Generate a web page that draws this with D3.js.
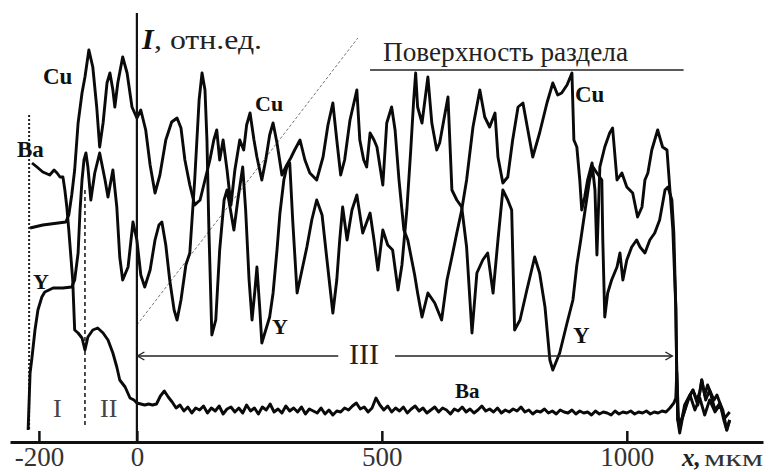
<!DOCTYPE html>
<html>
<head>
<meta charset="utf-8">
<script src="https://cdn.jsdelivr.net/npm/d3@7"></script>
<style>
  body { margin: 0; background: #fff; }
  svg { display: block; }
</style>
</head>
<body>
<script>
// Concentration profiles across the interface, x in mkm, I in rel. units

var cuX = [-218, -192, -145, -139, -133, -127, -120, -112, -106, -98,
  -90, -82, -76, -69, -61, -55, -49, -45, -39, -29,
  -20, -10, 0, 8, 18, 27, 37, 47, 59, 71,
  82, 90, 98, 108, 118, 129, 139, 149, 157, 163,
  169, 176, 184, 192, 200, 210, 218, 224, 231, 239,
  245, 255, 263, 271, 278, 286, 296, 306, 314, 322,
  333, 343, 353, 367, 380, 390, 400, 408, 416, 424,
  435, 449, 455, 463, 469, 476, 484, 490, 502, 510,
  520, 527, 535, 545, 553, 561, 567, 573, 582, 594,
  608, 622, 633, 643, 653, 663, 673, 686, 700, 710,
  720, 731, 737, 747, 757, 767, 778, 788, 798, 808,
  822, 837, 849, 859, 867, 878, 888, 892, 898, 904,
  908, 914, 920, 929, 935, 939, 945, 955, 965, 971,
  980, 990, 1000, 1012, 1022, 1031, 1037, 1043, 1051, 1063,
  1073, 1082, 1088, 1094, 1100, 1102, 1104, 1110, 1118, 1129,
  1139, 1149, 1159, 1169, 1180, 1190, 1200, 1210];
var cuI = [21.4, 21.7, 22.0, 22.7, 24.7, 27.2, 31.9, 34.9, 36.5, 39.2,
  37.5, 33.5, 29.5, 31.9, 35.9, 36.9, 35.2, 33.5, 35.9, 38.5,
  36.9, 33.5, 32.4, 33.2, 31.2, 27.7, 24.9, 26.7, 30.2, 32.0,
  32.4, 31.4, 28.2, 25.7, 23.7, 24.2, 26.2, 28.2, 30.2, 31.2,
  28.2, 30.2, 27.2, 23.7, 27.2, 30.2, 29.2, 31.7, 32.9, 30.2,
  28.5, 26.2, 28.2, 30.7, 31.9, 29.9, 26.7, 27.7, 28.4, 29.2,
  30.2, 28.2, 26.9, 26.2, 28.5, 31.7, 33.9, 30.2, 26.7, 28.2,
  32.2, 35.2, 30.2, 28.2, 27.5, 30.9, 30.2, 29.5, 25.7, 31.9,
  33.5, 31.2, 26.2, 21.2, 20.2, 18.2, 16.7, 14.9, 12.5, 14.9,
  13.9, 12.2, 16.2, 18.5, 20.9, 23.2, 26.2, 31.5, 35.2, 32.5,
  31.5, 32.9, 28.5, 25.9, 26.5, 30.2, 33.5, 33.9, 31.2, 28.5,
  30.9, 33.9, 35.9, 34.7, 34.9, 35.7, 36.9, 30.2, 29.5, 26.2,
  23.2, 24.5, 26.2, 27.9, 25.2, 18.7, 27.5, 29.5, 30.9, 31.4,
  26.2, 26.9, 25.5, 24.9, 22.5, 23.5, 26.2, 26.9, 29.2, 31.2,
  29.5, 29.2, 25.2, 21.2, 13.5, 6.7, 2.2, 1.7, 3.7, 4.7,
  3.2, 4.4, 2.7, 4.2, 3.0, 3.7, 2.4, 3.0];

var yX = [-222, -218, -214, -208, -202, -194, -188, -171, -151, -133,
  -127, -120, -116, -112, -108, -104, -100, -94, -86, -76,
  -65, -59, -49, -41, -35, -29, -18, -8, 0, 8,
  16, 27, 37, 45, 51, 59, 67, 76, 82, 90,
  100, 108, 118, 127, 133, 139, 143, 147, 153, 161,
  169, 178, 184, 190, 198, 206, 216, 222, 229, 235,
  241, 245, 251, 255, 263, 271, 278, 286, 292, 300,
  306, 312, 318, 327, 337, 347, 357, 367, 378, 388,
  400, 408, 414, 420, 429, 439, 449, 461, 476, 484,
  492, 502, 512, 522, 533, 541, 551, 559, 565, 569,
  573, 582, 594, 602, 612, 618, 635, 643, 653, 663,
  673, 684, 694, 706, 716, 727, 737, 747, 757, 765,
  771, 782, 796, 812, 822, 833, 843, 849, 863, 878,
  890, 898, 906, 914, 924, 931, 939, 949, 951, 955,
  961, 969, 980, 986, 992, 1000, 1010, 1020, 1027, 1037,
  1047, 1057, 1067, 1078, 1084, 1092, 1096, 1100, 1102, 1106,
  1114, 1124, 1135, 1145, 1153, 1161, 1169, 1180, 1190, 1198,
  1204, 1210];
var yI = [1.2, 6.9, 8.5, 11.2, 13.2, 14.5, 15.0, 15.4, 15.4, 15.5,
  16.2, 18.9, 23.2, 26.2, 28.2, 28.9, 27.5, 24.2, 26.9, 28.9,
  26.2, 24.5, 27.2, 23.5, 18.5, 16.2, 17.5, 22.0, 20.2, 16.7,
  15.5, 17.2, 20.2, 21.7, 22.0, 19.7, 16.2, 13.2, 12.2, 14.2,
  17.7, 18.9, 26.2, 34.2, 36.9, 35.2, 30.2, 21.2, 10.7, 12.2,
  19.2, 24.2, 25.2, 23.5, 21.2, 24.2, 27.5, 23.2, 16.2, 12.2,
  15.2, 17.5, 13.2, 9.9, 11.2, 12.5, 14.9, 19.2, 22.9, 26.2,
  27.5, 27.9, 22.2, 14.9, 17.2, 19.5, 22.2, 24.2, 22.7, 18.2,
  12.9, 16.2, 20.2, 23.5, 20.2, 23.2, 24.7, 20.9, 22.9, 20.2,
  17.2, 21.2, 19.7, 19.2, 15.2, 17.7, 23.2, 29.2, 34.2, 36.9,
  33.5, 31.9, 36.5, 31.9, 29.2, 29.9, 34.5, 25.2, 24.2, 23.5,
  19.5, 10.9, 16.9, 18.2, 18.9, 14.9, 20.2, 25.2, 24.2, 23.2,
  11.2, 12.2, 15.2, 18.5, 16.9, 13.5, 8.2, 7.2, 8.9, 11.9,
  14.2, 17.7, 20.2, 22.9, 26.2, 27.5, 26.9, 26.2, 20.2, 12.5,
  14.9, 16.2, 17.5, 18.9, 16.2, 18.2, 19.5, 20.2, 19.5, 18.9,
  20.2, 20.9, 22.2, 25.2, 25.5, 24.2, 20.9, 13.5, 6.9, 1.7,
  2.5, 4.2, 5.2, 3.7, 6.2, 4.2, 5.2, 3.2, 3.9, 2.2,
  1.2, 2.2];

// Ba: steps in zones I-II, then the flat noisy level sampled every 8 mkm, then the tail
var baLeftX = [-214, -204, -192, -178, -169, -163, -157, -151, -147, -143,
  -139, -135, -131, -127, -120, -112, -106, -100, -90, -80,
  -69, -59, -49, -41, -35, -24, -14, -6];
var baLeftI = [27.9, 27.5, 27.0, 26.7, 27.2, 26.9, 26.5, 26.5, 25.2, 23.5,
  21.2, 18.7, 16.2, 11.2, 10.9, 10.4, 9.2, 10.5, 11.2, 11.4,
  10.9, 10.2, 8.9, 7.5, 6.2, 5.5, 4.4, 4.2];
var baStep = 8;
var baMidI = [3.9, 3.8, 3.7, 3.8, 3.7, 3.8, 4.6, 5.1, 4.5, 4.0,
  3.4, 3.7, 3.1, 3.5, 2.9, 3.4, 3.2, 3.6, 2.9, 3.4,
  3.1, 3.6, 2.8, 3.3, 3.5, 3.0, 3.4, 2.9, 3.7, 3.1,
  3.4, 2.8, 3.5, 3.2, 3.8, 3.0, 3.3, 2.9, 3.6, 3.1,
  3.4, 3.0, 3.5, 2.8, 3.3, 3.1, 2.9, 3.4, 2.8, 3.2,
  2.7, 3.1, 3.0, 3.4, 3.2, 3.6, 3.9, 3.3, 3.5, 3.0,
  3.4, 4.4, 3.7, 3.2, 3.6, 3.0, 3.4, 3.1, 3.5, 2.9,
  3.3, 3.6, 3.1, 3.4, 2.9, 3.2, 3.5, 3.0, 3.4, 3.2,
  2.8, 3.3, 3.1, 3.5, 3.0, 3.3, 2.9, 3.2, 3.6, 3.1,
  3.3, 3.0, 3.4, 2.9, 3.2, 3.0, 3.3, 3.1, 3.5, 3.0,
  3.2, 2.8, 3.1, 3.0, 3.3, 2.9, 3.1, 2.8, 3.2, 3.0,
  2.9, 3.2, 2.8, 3.1, 2.9, 3.0, 2.7, 3.1, 2.8, 3.0,
  2.9, 2.7, 3.1, 2.8, 3.0, 2.9, 3.1, 2.8, 3.0, 2.9,
  3.1, 2.8, 3.0, 2.9, 3.1, 3.0, 3.4, 3.9];
var baTailX = [1100, 1102, 1104, 1108, 1114, 1122, 1129, 1135, 1143, 1149,
  1153, 1159, 1165, 1169, 1178, 1184, 1190, 1196, 1204, 1210];
var baTailI = [4.4, 7.0, 2.2, 0.9, 2.5, 3.7, 4.7, 5.2, 4.2, 5.0,
  6.2, 4.7, 5.7, 5.2, 4.2, 4.7, 3.9, 3.2, 1.2, 2.2];

var xTicks = [-200, 0, 500, 1000];

// ---------------------------------------------------------------

var svgWidth = 776;
var svgHeight = 472;
var serif = "'Liberation Serif', 'DejaVu Serif', 'Times New Roman', serif";

var svg = d3.select("body")
  .append("svg")
    .attr("width", svgWidth)
    .attr("height", svgHeight);

var x = d3.scaleLinear().domain([-259, 1278]).range([10, 763]);
var y = d3.scaleLinear().domain([0, 43]).range([442, 12]);

function pairs(xs, vs) {
  return xs.map(function(d, i) { return [d, vs[i]]; });
}

var cu = pairs(cuX, cuI);
var yt = pairs(yX, yI);
var ba = pairs(baLeftX, baLeftI)
  .concat(baMidI.map(function(v, i) { return [i * baStep, v]; }))
  .concat(pairs(baTailX, baTailI));

var line = d3.line()
  .x(function(d) { return x(d[0]); })
  .y(function(d) { return y(d[1]); });

// zone borders and the dashed guide
svg.append("line")
  .attr("x1", x(-220)).attr("x2", x(-220))
  .attr("y1", y(32.7)).attr("y2", y(1.2))
  .attr("stroke", "#222").attr("stroke-width", 2)
  .attr("stroke-dasharray", "2,2");

svg.append("line")
  .attr("x1", x(-106)).attr("x2", x(-106))
  .attr("y1", y(25.2)).attr("y2", y(1.4))
  .attr("stroke", "#222").attr("stroke-width", 1.6)
  .attr("stroke-dasharray", "4,3");

svg.append("line")
  .attr("x1", x(0)).attr("y1", y(11.7))
  .attr("x2", x(451)).attr("y2", y(40.4))
  .attr("stroke", "#777").attr("stroke-width", 1)
  .attr("stroke-dasharray", "3,2");

// profiles
[cu, yt, ba].forEach(function(s) {
  svg.append("path")
    .datum(s)
    .attr("fill", "none")
    .attr("stroke", "#0a0a0a")
    .attr("stroke-width", 2.9)
    .attr("stroke-linejoin", "round")
    .attr("d", line);
});

// axes
var xAxis = d3.axisBottom(x)
  .tickValues(xTicks)
  .tickSizeInner(-11)
  .tickSizeOuter(0)
  .tickPadding(5)
  .tickFormat(function(d) { return String(d); });

var gx = svg.append("g")
  .attr("transform", "translate(0," + y(0) + ")")
  .call(xAxis);
gx.select(".domain").attr("stroke", "#111").attr("stroke-width", 3);
gx.selectAll(".tick line").attr("stroke", "#111").attr("stroke-width", 2.5);
gx.selectAll(".tick text")
  .attr("font-family", serif)
  .attr("font-size", 27)
  .attr("fill", "#333");

svg.append("line")
  .attr("x1", x(0)).attr("x2", x(0))
  .attr("y1", 13).attr("y2", y(0))
  .attr("stroke", "#111").attr("stroke-width", 2.2);

// interface line
svg.append("line")
  .attr("x1", x(476)).attr("x2", x(1116))
  .attr("y1", y(37.2)).attr("y2", y(37.2))
  .attr("stroke", "#222").attr("stroke-width", 1.6);

// zone III arrow
var ay = y(8.6);
svg.append("line")
  .attr("x1", x(1)).attr("x2", x(411))
  .attr("y1", ay).attr("y2", ay)
  .attr("stroke", "#222").attr("stroke-width", 1.5);
svg.append("line")
  .attr("x1", x(527)).attr("x2", x(1093))
  .attr("y1", ay).attr("y2", ay)
  .attr("stroke", "#222").attr("stroke-width", 1.5);
svg.append("path")
  .attr("d", "M" + (x(1) + 7) + "," + (ay - 4) + "L" + x(1) + "," + ay + "L" + (x(1) + 7) + "," + (ay + 4))
  .attr("fill", "none").attr("stroke", "#222").attr("stroke-width", 1.3);
svg.append("path")
  .attr("d", "M" + (x(1093) - 7) + "," + (ay - 4) + "L" + x(1093) + "," + ay + "L" + (x(1093) - 7) + "," + (ay + 4))
  .attr("fill", "none").attr("stroke", "#222").attr("stroke-width", 1.3);

// texts
function label(t, px, py, size, opts) {
  opts = opts || {};
  var el = svg.append("text")
    .attr("x", px).attr("y", py)
    .attr("font-family", serif)
    .attr("font-size", size)
    .attr("font-weight", opts.bold ? "bold" : "normal")
    .attr("font-style", opts.italic ? "italic" : "normal")
    .attr("fill", opts.fill || "#111")
    .text(t);
  if (opts.len) el.attr("textLength", opts.len).attr("lengthAdjust", "spacingAndGlyphs");
  return el;
}

label("I", 142, 49, 30, { bold: true, italic: true });
label(", отн.ед.", 154, 49, 28, { fill: "#222", len: 108 });
label("Поверхность раздела", 383, 61, 28, { fill: "#222", len: 245 });
label("x,", 682, 466, 25, { bold: true, italic: true, fill: "#222" });
label("мкм", 704, 466, 24, { fill: "#333", len: 59 });

label("Cu", 43, 84, 23, { bold: true });
label("Cu", 255, 111, 22, { bold: true });
label("Cu", 575, 102, 23, { bold: true });
label("Ba", 17, 157, 23, { bold: true });
label("Ba", 455, 398, 21, { bold: true });
label("Y", 33, 289, 22, { bold: true });
label("Y", 272, 334, 22, { bold: true });
label("Y", 573, 343, 23, { bold: true });

label("I", 53, 417, 26, { fill: "#444" });
label("II", 100, 417, 26, { fill: "#444" });
label("III", 349, 364, 30, { fill: "#222" });
</script>
</body>
</html>
